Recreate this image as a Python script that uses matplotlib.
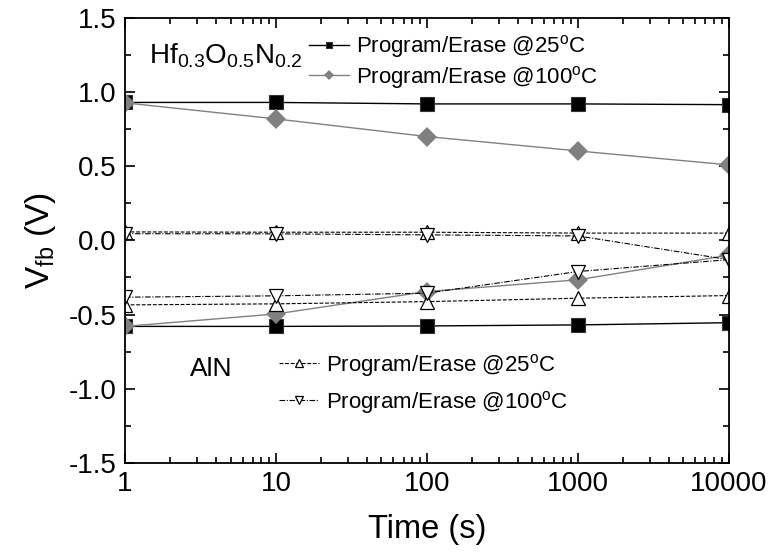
import matplotlib
matplotlib.use("Agg")
import matplotlib.pyplot as plt
from matplotlib.ticker import FixedLocator, NullFormatter, LogLocator

plt.rcParams["font.family"] = ["Liberation Sans", "DejaVu Sans"]
plt.rcParams["mathtext.fontset"] = "custom"
plt.rcParams["mathtext.rm"] = "Liberation Sans"
plt.rcParams["mathtext.it"] = "Liberation Sans"
plt.rcParams["mathtext.bf"] = "Liberation Sans"
plt.rcParams["axes.unicode_minus"] = False

# --- data ---
time_s = [1, 10, 100, 1000, 10000]

hfon_25_prog = [0.93, 0.93, 0.92, 0.92, 0.915]
hfon_25_erase = [-0.58, -0.58, -0.577, -0.57, -0.555]
hfon_100_prog = [0.927, 0.819, 0.70, 0.603, 0.509]
hfon_100_erase = [-0.58, -0.496, -0.345, -0.266, -0.10]

aln_25_prog = [0.057, 0.055, 0.055, 0.049, 0.049]
aln_25_erase = [-0.435, -0.428, -0.413, -0.39, -0.372]
aln_100_prog = [0.045, 0.044, 0.037, 0.030, -0.13]
aln_100_erase = [-0.383, -0.374, -0.356, -0.21, -0.13]

label_25 = "Program/Erase @25$^\\mathregular{o}$C"
label_100 = "Program/Erase @100$^\\mathregular{o}$C"

fig = plt.figure(figsize=(7.72, 5.59), dpi=100)
ax = fig.add_axes([0.162, 0.172, 0.782, 0.796])

grey = "#808080"
dash = (0, (3.5, 1.5))
dashdot = (0, (5, 1.5, 1, 1.5))

# HfON
sq = dict(color="black", lw=1.0, marker="s", ms=9.5, mfc="black", mec="#333333", mew=0.8)
ax.plot(time_s, hfon_25_prog, label=label_25, **sq)
ax.plot(time_s, hfon_25_erase, **sq)
dm = dict(color=grey, lw=1.0, marker="D", ms=10, mfc=grey, mec=grey, mew=0)
ax.plot(time_s, hfon_100_prog, label=label_100, **dm)
ax.plot(time_s, hfon_100_erase, **dm)

# AlN
up = dict(color="black", lw=0.8, ls=dash, marker="^", ms=10.5, mfc="white", mec="black", mew=0.9)
l25, = ax.plot(time_s, aln_25_prog, **up)
ax.plot(time_s, aln_25_erase, **up)
dn = dict(color="black", lw=0.8, ls=dashdot, marker="v", ms=10.5, mfc="white", mec="black", mew=0.9)
l100, = ax.plot(time_s, aln_100_prog, **dn)
ax.plot(time_s, aln_100_erase, **dn)

ax.set_xscale("log")
ax.set_xlim(1, 10000)
ax.set_ylim(-1.5, 1.5)
ax.xaxis.set_major_locator(FixedLocator(time_s))
ax.set_xticklabels(["1", "10", "100", "1000", "10000"])
ax.xaxis.set_minor_locator(LogLocator(base=10, subs=range(2, 10)))
ax.xaxis.set_minor_formatter(NullFormatter())
ax.set_yticks([-1.5, -1.0, -0.5, 0.0, 0.5, 1.0, 1.5])
ax.set_yticks([-1.25, -0.75, -0.25, 0.25, 0.75, 1.25], minor=True)
ax.tick_params(which="both", direction="in", top=True, right=True, labelsize=20, width=1.2)
ax.tick_params(which="major", length=7, pad=6)
ax.tick_params(which="minor", length=4)
for s in ax.spines.values():
    s.set_linewidth(1.3)

ax.set_xlabel("Time (s)", fontsize=23.5, labelpad=12)
ax.set_ylabel("V$_\\mathregular{fb}$ (V)", fontsize=24, labelpad=8)

ax.text(0.04, 0.915, "Hf$_{0.3}$O$_{0.5}$N$_{0.2}$", transform=ax.transAxes,
        fontsize=20, va="center", ha="left")
ax.text(0.108, 0.212, "AlN", transform=ax.transAxes, fontsize=19, va="center", ha="left")

leg1 = ax.legend(loc="upper left", bbox_to_anchor=(0.29, 0.985), frameon=False,
                 fontsize=16, markerscale=0.5, handlelength=1.8, handletextpad=0.3,
                 labelspacing=0.15, borderaxespad=0)
ax.add_artist(leg1)
ax.legend([l25, l100], [label_25, label_100], loc="upper left",
          bbox_to_anchor=(0.24, 0.27), frameon=False, fontsize=16,
          markerscale=0.5, handlelength=1.8, handletextpad=0.3,
          labelspacing=0.45, borderaxespad=0)

fig.savefig("out.png", dpi=100)
